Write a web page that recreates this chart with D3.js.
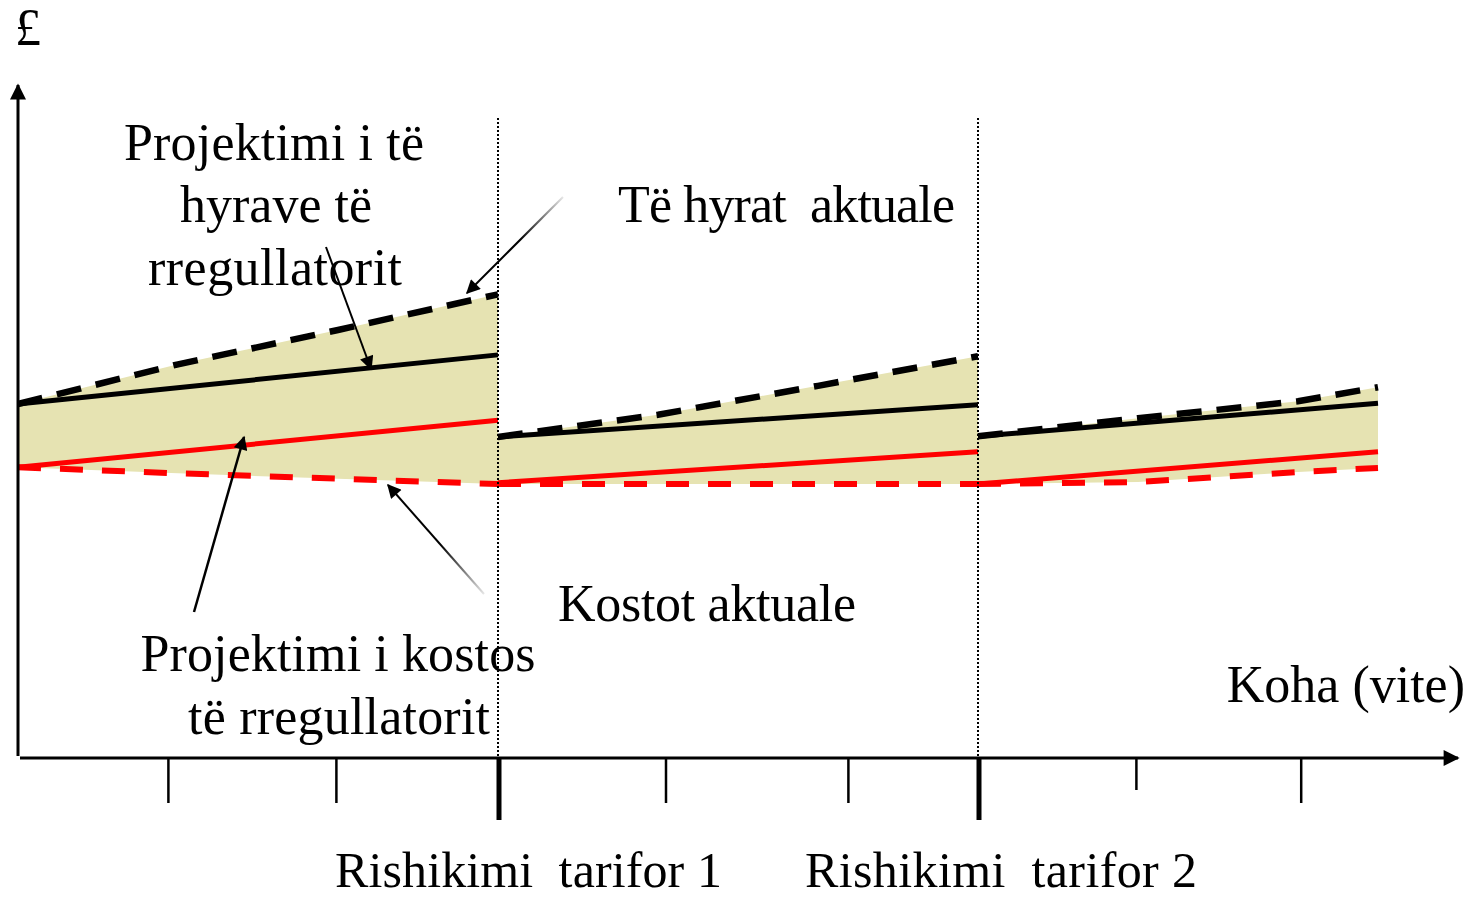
<!DOCTYPE html>
<html lang="sq">
  <head>
    <meta charset="utf-8" />
    <title>Rishikimi tarifor</title>
    <script src="https://d3js.org/d3.v7.min.js" charset="utf-8"></script>
    <style>
      body { margin: 0; background: #fff; }
      text { font-family: "Liberation Serif", "Times New Roman", serif; fill: #000; }
    </style>
  </head>
  <body>
    <div id="graph-container"></div>
    <script type="text/javascript">
      // periods (time in years) and values (£, arbitrary units)
      const periodT = [
        [0, 1, 2, 3],
        [3, 4, 5, 6],
        [6, 7, 8, 8.5]
      ];
      const revenueActual = [
        [52.6, 58.5, 63.6, 68.9],
        [47.7, 51.0, 55.3, 59.7],
        [47.8, 50.5, 53.0, 55.1]
      ];
      const costActual = [
        [43.2, 42.3, 41.5, 40.7],
        [40.7, 40.7, 40.7, 40.7],
        [40.7, 41.0, 42.5, 43.1]
      ];
      // projections: [start, end] of each period
      const revenueProjected = [
        [52.6, 59.9],
        [47.7, 52.5],
        [47.8, 52.7]
      ];
      const costProjected = [
        [43.2, 50.2],
        [40.9, 45.5],
        [40.7, 45.5]
      ];
      const reviewT = [3, 6];
      const yearTicks = [0.94, 1.99, 4.05, 5.19, 6.99, 8.02];
      const reviewLabels = ["Rishikimi  tarifor 1", "Rishikimi  tarifor 2"];

      const cW = 1471,
        cH = 899,
        cFont = 52;

      const svg = d3
        .select("#graph-container")
        .append("svg")
        .attr("width", cW)
        .attr("height", cH);

      const xScale = d3.scaleLinear().domain([0, 9]).range([18, 1458]);
      const yScale = d3.scaleLinear().domain([0, 100]).range([758, 85]);

      const defs = svg.append("defs");
      defs
        .append("marker")
        .attr("id", "axisHead")
        .attr("viewBox", "0 0 10 10")
        .attr("refX", 9)
        .attr("refY", 5)
        .attr("markerUnits", "userSpaceOnUse")
        .attr("markerWidth", 18)
        .attr("markerHeight", 16)
        .attr("orient", "auto")
        .append("path")
        .attr("d", "M0,0 L10,5 L0,10 Z")
        .attr("fill", "#000");
      defs
        .append("marker")
        .attr("id", "noteHead")
        .attr("viewBox", "0 0 10 10")
        .attr("refX", 9)
        .attr("refY", 5)
        .attr("markerUnits", "userSpaceOnUse")
        .attr("markerWidth", 17)
        .attr("markerHeight", 14)
        .attr("orient", "auto")
        .append("path")
        .attr("d", "M0,0 L10,5 L0,10 Z")
        .attr("fill", "#000");

      //fill between actual revenue and actual cost
      const area = d3
        .area()
        .x((d) => xScale(d.t))
        .y0((d) => yScale(d.lo))
        .y1((d) => yScale(d.hi));

      const segments = periodT.map((ts, i) =>
        ts.map((t, j) => ({ t: t, hi: revenueActual[i][j], lo: costActual[i][j] }))
      );

      svg
        .selectAll("path.band")
        .data(segments)
        .enter()
        .append("path")
        .attr("class", "band")
        .attr("d", area)
        .attr("fill", "#e6e3b2");

      const line = d3
        .line()
        .x((d) => xScale(d[0]))
        .y((d) => yScale(d[1]));

      const drawSeries = (values, useEnds, color, dash, width) => {
        svg
          .append("g")
          .selectAll("path")
          .data(values)
          .enter()
          .append("path")
          .attr("d", (v, i) => {
            const ts = useEnds
              ? [periodT[i][0], periodT[i][periodT[i].length - 1]]
              : periodT[i];
            return line(ts.map((t, j) => [t, v[j]]));
          })
          .attr("fill", "none")
          .attr("stroke", color)
          .attr("stroke-width", width)
          .attr("stroke-dasharray", dash);
      };

      drawSeries(costActual, false, "#ff0000", "23,19", 6);
      drawSeries(costProjected, true, "#ff0000", null, 5);
      drawSeries(revenueProjected, true, "#000", null, 5);
      drawSeries(revenueActual, false, "#000", "25,15", 6.5);

      //dotted review lines
      svg
        .selectAll("line.review")
        .data(reviewT)
        .enter()
        .append("line")
        .attr("class", "review")
        .attr("x1", (d) => xScale(d))
        .attr("x2", (d) => xScale(d))
        .attr("y1", 118)
        .attr("y2", yScale(0))
        .attr("stroke", "#000")
        .attr("stroke-width", 2)
        .attr("stroke-dasharray", "2,2");

      //axes
      svg
        .append("line")
        .attr("x1", xScale(0))
        .attr("x2", xScale(0))
        .attr("y1", yScale(0) - 2)
        .attr("y2", yScale(100))
        .attr("stroke", "#000")
        .attr("stroke-width", 3)
        .attr("marker-end", "url(#axisHead)");
      svg
        .append("line")
        .attr("x1", xScale(0) + 2)
        .attr("x2", xScale(9))
        .attr("y1", yScale(0))
        .attr("y2", yScale(0))
        .attr("stroke", "#000")
        .attr("stroke-width", 3)
        .attr("marker-end", "url(#axisHead)");

      svg
        .selectAll("line.tick")
        .data(yearTicks)
        .enter()
        .append("line")
        .attr("class", "tick")
        .attr("x1", (d) => xScale(d))
        .attr("x2", (d) => xScale(d))
        .attr("y1", yScale(0))
        .attr("y2", (d, i) => yScale(0) + (i === 4 ? 32 : 45))
        .attr("stroke", "#000")
        .attr("stroke-width", 2.5);

      svg
        .selectAll("line.rtick")
        .data(reviewT)
        .enter()
        .append("line")
        .attr("class", "rtick")
        .attr("x1", (d) => xScale(d) + 1)
        .attr("x2", (d) => xScale(d) + 1)
        .attr("y1", yScale(0))
        .attr("y2", yScale(0) + 62)
        .attr("stroke", "#000")
        .attr("stroke-width", 5);

      //labels
      const addText = (str, x, y, anchor, len) => {
        const t = svg
          .append("text")
          .attr("x", x)
          .attr("y", y)
          .attr("font-size", cFont)
          .attr("text-anchor", anchor)
          .attr("xml:space", "preserve")
          .text(str);
        if (len) t.attr("textLength", len).attr("lengthAdjust", "spacing");
        return t;
      };

      addText("£", 15, 45, "start");
      addText("Projektimi i të", 274, 160, "middle", 300);
      addText("hyrave të", 276, 222, "middle");
      addText("rregullatorit", 275, 285, "middle", 254);
      addText("Të hyrat  aktuale", 618, 222, "start", 337);
      addText("Kostot aktuale", 558, 621, "start", 298);
      addText("Projektimi i kostos", 338, 671, "middle", 395);
      addText("të rregullatorit", 339, 734, "middle", 302);
      addText("Koha (vite)", 1465, 702, "end");

      svg
        .selectAll("text.review")
        .data(reviewT)
        .enter()
        .append("text")
        .attr("class", "review")
        .attr("x", (d, i) => (i === 0 ? 335 : 805))
        .attr("y", 887)
        .attr("font-size", 50)
        .attr("xml:space", "preserve")
        .attr("textLength", (d, i) => (i === 0 ? 387 : 392))
        .attr("lengthAdjust", "spacing")
        .text((d, i) => reviewLabels[i]);

      //annotation arrows
      const fade = defs
        .append("linearGradient")
        .attr("id", "fade1")
        .attr("gradientUnits", "userSpaceOnUse")
        .attr("x1", 563)
        .attr("y1", 197)
        .attr("x2", 520)
        .attr("y2", 240);
      fade.append("stop").attr("offset", 0).attr("stop-color", "#000").attr("stop-opacity", 0.1);
      fade.append("stop").attr("offset", 1).attr("stop-color", "#000").attr("stop-opacity", 1);
      const fade2 = defs
        .append("linearGradient")
        .attr("id", "fade2")
        .attr("gradientUnits", "userSpaceOnUse")
        .attr("x1", 484)
        .attr("y1", 594)
        .attr("x2", 440)
        .attr("y2", 545);
      fade2.append("stop").attr("offset", 0).attr("stop-color", "#000").attr("stop-opacity", 0.1);
      fade2.append("stop").attr("offset", 1).attr("stop-color", "#000").attr("stop-opacity", 1);

      const notes = [
        { x1: 326, y1: 247, x2: 371, y2: 369, stroke: "#000", w: 2 },
        { x1: 563, y1: 197, x2: 467, y2: 293, stroke: "url(#fade1)", w: 2 },
        { x1: 194, y1: 612, x2: 244, y2: 437, stroke: "#000", w: 2.5 },
        { x1: 484, y1: 594, x2: 388, y2: 485, stroke: "url(#fade2)", w: 2 }
      ];
      svg
        .selectAll("line.note")
        .data(notes)
        .enter()
        .append("line")
        .attr("class", "note")
        .attr("x1", (d) => d.x1)
        .attr("y1", (d) => d.y1)
        .attr("x2", (d) => d.x2)
        .attr("y2", (d) => d.y2)
        .attr("stroke", (d) => d.stroke)
        .attr("stroke-width", (d) => d.w)
        .attr("marker-end", "url(#noteHead)");
    </script>
  </body>
</html>
